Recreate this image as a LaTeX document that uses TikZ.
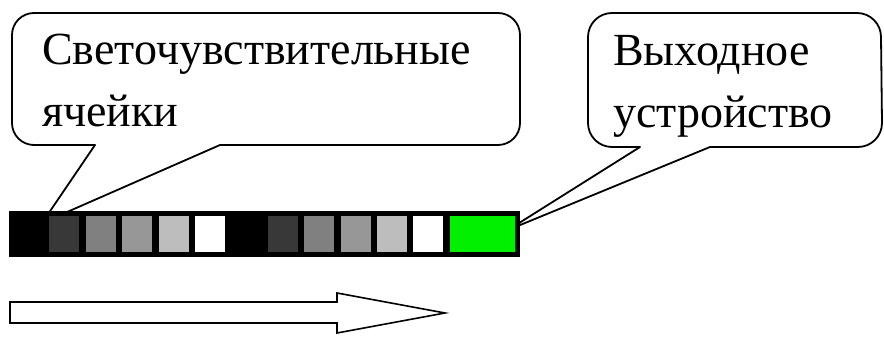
\documentclass[tikz,border=0pt]{standalone}
\usepackage{fontspec}
\setmainfont{Liberation Serif}
\definecolor{cdark}{HTML}{383838}
\definecolor{cgrayA}{HTML}{808080}
\definecolor{cgrayB}{HTML}{979797}
\definecolor{clight}{HTML}{BDBDBD}
\definecolor{cgreen}{HTML}{00F000}
\tikzset{
  callout/.style={draw=black, line width=1.8pt, line join=round},
  lbl/.style={anchor=base west, inner sep=0pt, font=\fontsize{46}{62}\selectfont},
  bigarrow/.style={draw=black, line width=1.6pt, fill=white, line join=miter}
}
\begin{document}
\begin{tikzpicture}[x=1pt,y=1pt]
\useasboundingbox (0,0) rectangle (884,340);
% callout 1
\draw[callout] (95,195) -- (42,117) -- (220,195) -- (498,195)
  arc[start angle=-90, end angle=0, radius=22pt] -- (520,305)
  arc[start angle=0, end angle=90, radius=22pt] -- (34,327)
  arc[start angle=90, end angle=180, radius=22pt] -- (12,217)
  arc[start angle=180, end angle=270, radius=22pt] -- cycle;
\node[lbl] (t1a) at (42,275) {Светочувствительные};
\node[lbl] (t1b) at (42,213) {ячейки};
% callout 2
\draw[callout] (640,193) -- (508,110) -- (710,193) -- (858,193)
  arc[start angle=-90, end angle=0, radius=24pt] -- (881,303)
  arc[start angle=0, end angle=90, radius=24pt] -- (612,327)
  arc[start angle=90, end angle=180, radius=24pt] -- (588,217)
  arc[start angle=180, end angle=270, radius=24pt] -- cycle;
\node[lbl] (t2a) at (613,274) {Выходное};
\node[lbl] (t2b) at (613,212) {устройство};
% strip
\fill[black] (9,83) rectangle (520,129);
\foreach \i/\c in {1/cdark,2/cgrayA,3/cgrayB,4/clight,5/white,7/cdark,8/cgrayA,9/cgrayB,10/clight,11/white}{
  \fill[\c] ({13+36.4*\i},88) rectangle ({13+36.4*\i+30},124);
}
\fill[cgreen] (449.5,88) rectangle (515,124);
% big arrow
\draw[bigarrow] (10,38) -- (337,38) -- (337,47) -- (445,27) -- (337,7) -- (337,17) -- (10,17) -- cycle;
\end{tikzpicture}
\end{document}
